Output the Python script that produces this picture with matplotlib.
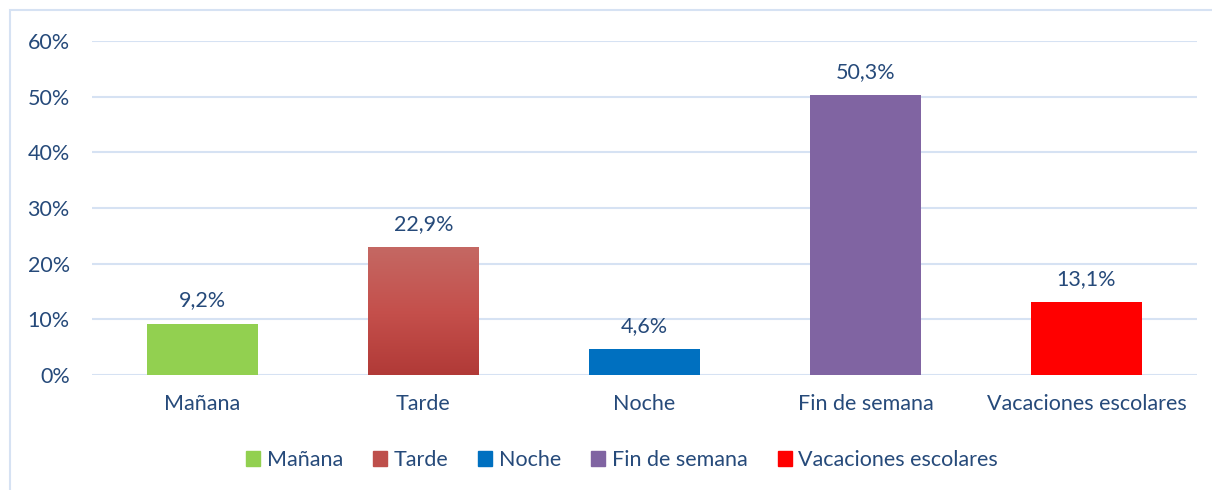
import matplotlib
matplotlib.use("Agg")
import matplotlib.pyplot as plt
from matplotlib.patches import Rectangle
from matplotlib.colors import LinearSegmentedColormap
from matplotlib.ticker import FuncFormatter
import numpy as np

# Datos
categorias = ["Mañana", "Tarde", "Noche", "Fin de semana", "Vacaciones escolares"]
porcentajes = [9.2, 22.9, 4.6, 50.3, 13.1]
colores = ["#92D050", "#C0504D", "#0070C0", "#8064A2", "#FF0000"]
ticks_y = [0, 10, 20, 30, 40, 50, 60]

COLOR_TEXTO = "#264A7A"
COLOR_GRID = "#D6E2F3"
TAM = 15.5

plt.rcParams['font.family'] = ['Lato', 'DejaVu Sans']

fig = plt.figure(figsize=(12.12, 4.90), dpi=100, facecolor='white')
ax = fig.add_axes([92 / 1212, 1 - 375 / 490, (1197 - 92) / 1212, (375 - 41) / 490])

# Marco del gráfico
fig.patches.append(Rectangle((10 / 1212, -0.05), 1.1, 1 - 10 / 490 + 0.05,
                             transform=fig.transFigure, fill=False,
                             edgecolor=COLOR_GRID, linewidth=1.5))

x = np.arange(len(categorias))
barras = ax.bar(x, porcentajes, width=0.5, color=colores, zorder=2)

# Degradado en la barra "Tarde"
b = barras[1]
bx, by = b.get_x(), b.get_y()
bw, bh = b.get_width(), b.get_height()
grad = np.linspace(0, 1, 256).reshape(-1, 1)
cmap = LinearSegmentedColormap.from_list("tarde", ["#B13A37", "#C5504C", "#C46863"])
ax.imshow(grad, extent=[bx, bx + bw, by, by + bh], origin='lower',
          aspect='auto', cmap=cmap, zorder=3)
b.set_alpha(0)

# Etiquetas de datos
for xi, v in zip(x, porcentajes):
    ax.text(xi, v + 2.4, f"{v:.1f}%".replace(".", ","), ha='center', va='bottom',
            fontsize=TAM, color=COLOR_TEXTO)

ax.set_xlim(-0.5, len(categorias) - 0.5)
ax.set_ylim(0, 60)
ax.set_yticks(ticks_y)
ax.yaxis.set_major_formatter(FuncFormatter(lambda v, p: f"{v:.0f}%"))
ax.set_xticks(x)
ax.set_xticklabels(categorias)
ax.tick_params(axis='both', length=0, labelsize=TAM, colors=COLOR_TEXTO)
ax.tick_params(axis='y', pad=16)
ax.tick_params(axis='x', pad=14)
ax.grid(axis='y', color=COLOR_GRID, linewidth=1.5, zorder=0)
ax.set_axisbelow(True)
for s in ax.spines.values():
    s.set_visible(False)

# Leyenda
handles = [Rectangle((0, 0), 1, 1, color=c) for c in colores]
handles[1] = Rectangle((0, 0), 1, 1, color="#BE4F4B")
fig.legend(handles, categorias, loc='center', bbox_to_anchor=(622 / 1212, 1 - 460 / 490),
           ncol=5, frameon=False, fontsize=TAM, labelcolor=COLOR_TEXTO,
           handlelength=0.65, handleheight=0.75, handletextpad=0.3, columnspacing=1.4)

fig.savefig("out.png", dpi=100, facecolor='white')
